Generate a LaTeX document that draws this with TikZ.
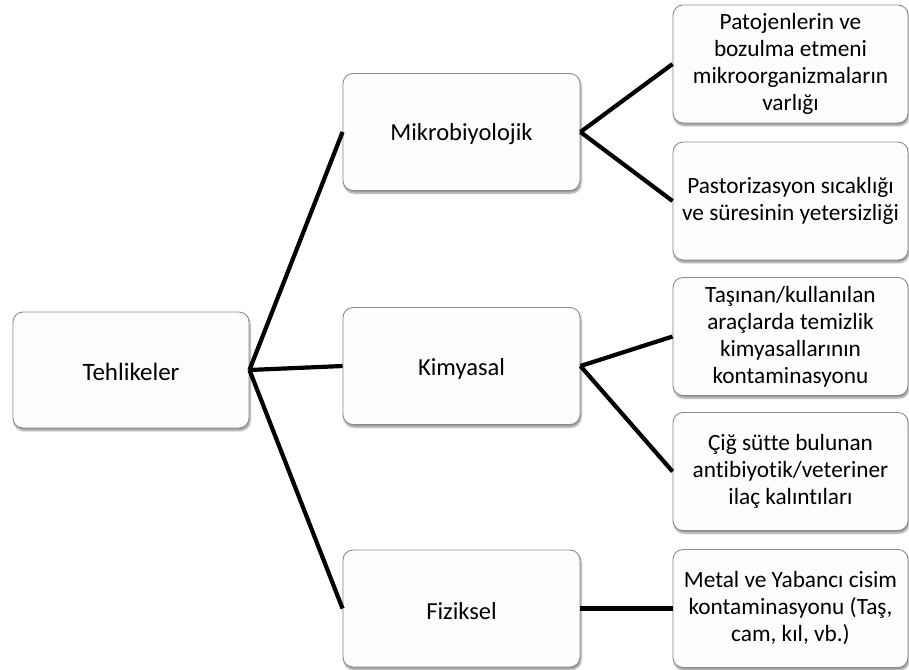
\documentclass[tikz,border=0pt]{standalone}
\usepackage{fontspec}
\setmainfont{Carlito}[Ligatures={NoCommon}]
\usetikzlibrary{shadows.blur}
\definecolor{boxedge}{RGB}{140,140,140}
\definecolor{boxfill}{RGB}{253,253,253}
\tikzset{
  box/.style={draw=boxedge, line width=0.9pt, fill=boxfill, rounded corners=10pt,
    align=center, inner sep=2pt,
    execute at begin node={\rule{0pt}{22pt}},
    blur shadow={shadow xshift=1pt, shadow yshift=-2.5pt, shadow blur steps=6, shadow opacity=45}},
  rootbox/.style={box, minimum width=236pt, minimum height=116pt, font=\fontsize{25}{30}\selectfont},
  midbox/.style={box, minimum width=237pt, minimum height=117pt, font=\fontsize{24.5}{30}\selectfont},
  leafbox/.style={box, minimum width=235pt, minimum height=118pt, font=\fontsize{23.3}{27}\selectfont},
  link/.style={line width=4.2pt, black}
}
\begin{document}
\begin{tikzpicture}[x=1pt, y=-1pt]
\useasboundingbox (0,0) rectangle (909,669);
% root
\node[rootbox] (root) at (131,370) {Tehlikeler};
% categories
\node[midbox] (mik) at (461.5,132) {Mikrobiyolojik};
\node[midbox] (kim) at (461.5,366) {Kimyasal};
\node[midbox] (fiz) at (461.5,608.5) {Fiziksel};
% hazards
\node[leafbox] (p1) at (790.5,64) {Patojenlerin ve\\bozulma etmeni\\mikroorganizmaların\\varlığı};
\node[leafbox] (p2) at (790.5,201) {Pastorizasyon sıcaklığı\\ve süresinin yetersizliği};
\node[leafbox] (k1) at (790.5,336.5) {Taşınan/kullanılan\\araçlarda temizlik\\kimyasallarının\\kontaminasyonu};
\node[leafbox] (k2) at (790.5,471.5) {Çiğ sütte bulunan\\antibiyotik/veteriner\\ilaç kalıntıları};
\node[leafbox] (f1) at (790.5,608.5) {Metal ve Yabancı cisim\\kontaminasyonu (Taş,\\cam, kıl, vb.)};
% connectors
\draw[link] (root.east) -- (mik.west);
\draw[link] (root.east) -- (kim.west);
\draw[link] (root.east) -- (fiz.west);
\draw[link] (mik.east) -- (p1.west);
\draw[link] (mik.east) -- (p2.west);
\draw[link] (kim.east) -- (k1.west);
\draw[link] (kim.east) -- (k2.west);
\draw[link] (fiz.east) -- (f1.west);
\end{tikzpicture}
\end{document}
